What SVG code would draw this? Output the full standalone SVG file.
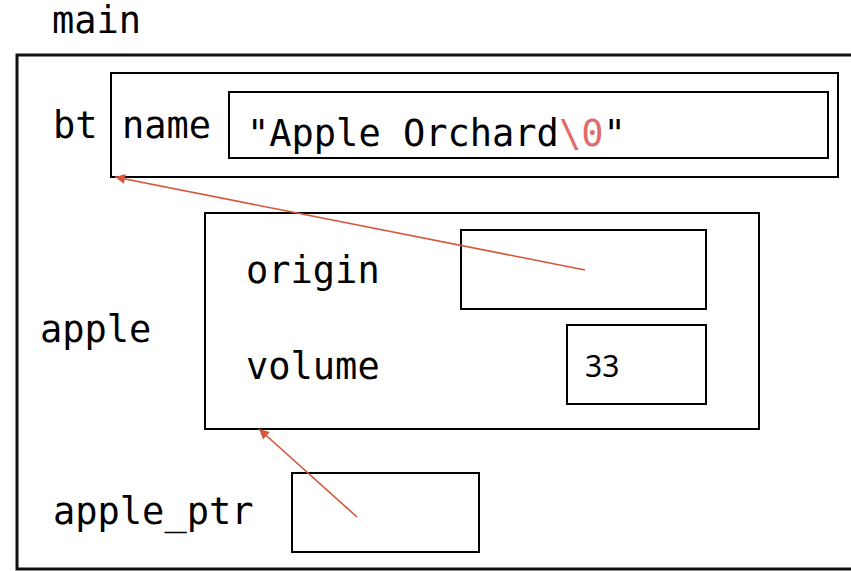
<svg xmlns="http://www.w3.org/2000/svg" width="851" height="571" viewBox="0 0 851 571">
<style>
.t{font-family:"DejaVu Sans Mono","Liberation Mono",monospace;font-size:37px;fill:#000}
.box{fill:none;stroke:#000;stroke-width:2}
.conn{stroke:#d5573b;stroke-width:1.6;fill:none;marker-end:url(#ah)}
</style>
<defs>
<marker id="ah" viewBox="0 0 10 10" refX="10" refY="5" markerWidth="11" markerHeight="10" markerUnits="userSpaceOnUse" orient="auto">
<path d="M0,0 L10,5 L0,10 z" fill="#d5573b"/>
</marker>
</defs>
<rect width="851" height="571" fill="#fff"/>
<g id="main">
<text class="t" x="52" y="33">main</text>
<rect x="17" y="55" width="900" height="514" fill="none" stroke="#111" stroke-width="3"/>
</g>
<g id="bt">
<text class="t" x="53" y="138">bt</text>
<rect class="box" x="111" y="73" width="727" height="104" stroke-width="1.5"/>
<text class="t" x="122" y="138">name</text>
<rect class="box" x="229" y="92" width="599" height="66" stroke-width="2.5"/>
<text class="t" x="247" y="146">"Apple Orchard<tspan fill="#e06c6c">\0</tspan>"</text>
</g>
<g id="apple">
<text class="t" x="40" y="342">apple</text>
<rect class="box" x="205" y="213" width="554" height="216"/>
<text class="t" x="246" y="283">origin</text>
<rect class="box" x="461" y="230" width="245" height="79"/>
<text class="t" x="246" y="379">volume</text>
<rect class="box" x="567" y="325" width="139" height="79"/>
<text x="585" y="377" style="font-family:'Noto Sans','Open Sans',sans-serif;font-size:30px;fill:#000">33</text>
</g>
<g id="apple_ptr">
<text class="t" x="53" y="524">apple_ptr</text>
<rect class="box" x="292" y="473" width="187" height="79"/>
</g>
<g id="connectors">
<line class="conn" x1="585" y1="270" x2="115" y2="177"/>
<line class="conn" x1="357" y1="517" x2="259" y2="429"/>
</g>
</svg>
